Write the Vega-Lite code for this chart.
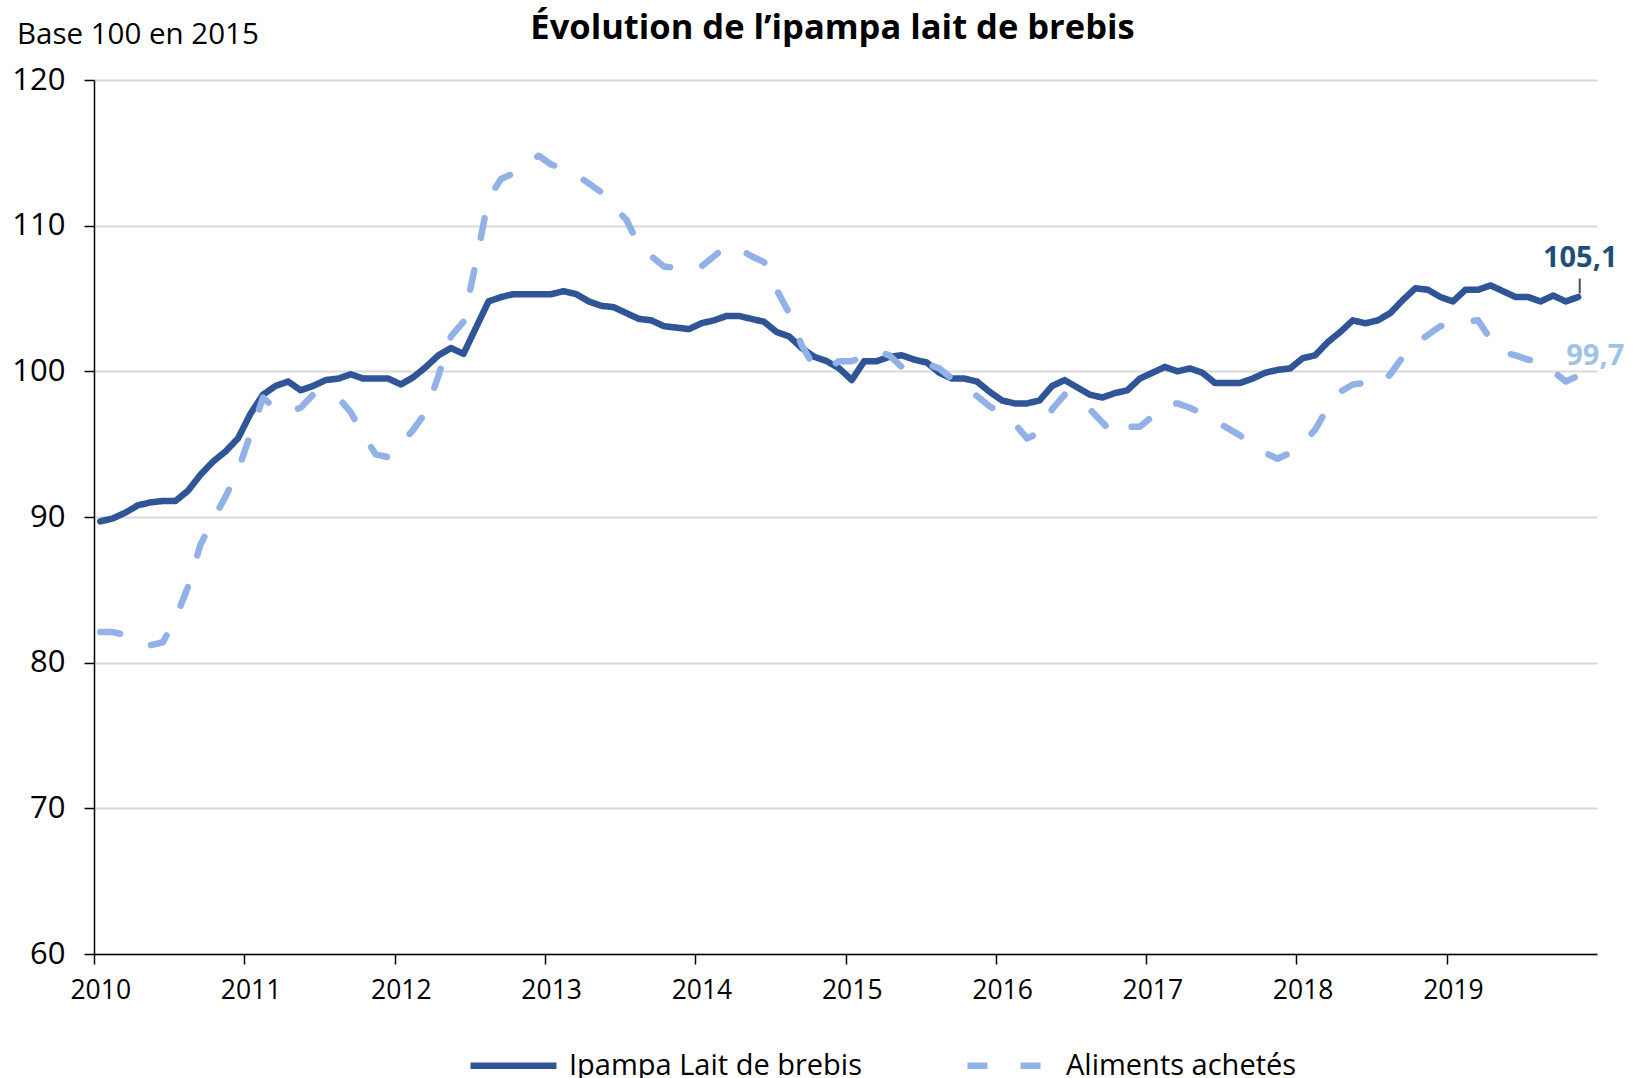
{
  "$schema": "https://vega.github.io/schema/vega-lite/v6.json",
  "width": 1503,
  "height": 874,
  "autosize": {"type": "none"},
  "padding": {"left": 94, "top": 80, "right": 36, "bottom": 124},
  "background": "white",
  "config": {"font": "Open Sans", "view": {"stroke": null}},
  "title": {"text": "Évolution de l’ipampa lait de brebis", "font": "Open Sans", "fontSize": 34.5, "fontWeight": "bold", "color": "black", "anchor": "middle", "frame": "group", "offset": 0, "dx": -13, "dy": 54, "baseline": "alphabetic"},
  "datasets": {
    "series": [
      {"m": "2010-01", "ipampa": 89.7, "aliments": 82.1},
      {"m": "2010-02", "ipampa": 89.9, "aliments": 82.1},
      {"m": "2010-03", "ipampa": 90.3, "aliments": 81.9},
      {"m": "2010-04", "ipampa": 90.8, "aliments": 81.5},
      {"m": "2010-05", "ipampa": 91.0, "aliments": 81.2},
      {"m": "2010-06", "ipampa": 91.1, "aliments": 81.4},
      {"m": "2010-07", "ipampa": 91.1, "aliments": 83.0},
      {"m": "2010-08", "ipampa": 91.8, "aliments": 85.2},
      {"m": "2010-09", "ipampa": 92.9, "aliments": 88.1},
      {"m": "2010-10", "ipampa": 93.8, "aliments": 89.8},
      {"m": "2010-11", "ipampa": 94.5, "aliments": 91.4},
      {"m": "2010-12", "ipampa": 95.4, "aliments": 93.2},
      {"m": "2011-01", "ipampa": 97.1, "aliments": 95.7},
      {"m": "2011-02", "ipampa": 98.4, "aliments": 98.2},
      {"m": "2011-03", "ipampa": 99.0, "aliments": 97.4},
      {"m": "2011-04", "ipampa": 99.3, "aliments": 97.2},
      {"m": "2011-05", "ipampa": 98.7, "aliments": 97.5},
      {"m": "2011-06", "ipampa": 99.0, "aliments": 98.4},
      {"m": "2011-07", "ipampa": 99.4, "aliments": 98.3},
      {"m": "2011-08", "ipampa": 99.5, "aliments": 98.2},
      {"m": "2011-09", "ipampa": 99.8, "aliments": 97.2},
      {"m": "2011-10", "ipampa": 99.5, "aliments": 95.6},
      {"m": "2011-11", "ipampa": 99.5, "aliments": 94.3},
      {"m": "2011-12", "ipampa": 99.5, "aliments": 94.1},
      {"m": "2012-01", "ipampa": 99.1, "aliments": 95.0},
      {"m": "2012-02", "ipampa": 99.6, "aliments": 96.0},
      {"m": "2012-03", "ipampa": 100.3, "aliments": 97.2},
      {"m": "2012-04", "ipampa": 101.1, "aliments": 99.7},
      {"m": "2012-05", "ipampa": 101.6, "aliments": 102.4},
      {"m": "2012-06", "ipampa": 101.2, "aliments": 103.4},
      {"m": "2012-07", "ipampa": 103.0, "aliments": 107.5},
      {"m": "2012-08", "ipampa": 104.8, "aliments": 111.9},
      {"m": "2012-09", "ipampa": 105.1, "aliments": 113.2},
      {"m": "2012-10", "ipampa": 105.3, "aliments": 113.6},
      {"m": "2012-11", "ipampa": 105.3, "aliments": 114.2},
      {"m": "2012-12", "ipampa": 105.3, "aliments": 114.8},
      {"m": "2013-01", "ipampa": 105.3, "aliments": 114.2},
      {"m": "2013-02", "ipampa": 105.5, "aliments": 113.9},
      {"m": "2013-03", "ipampa": 105.3, "aliments": 113.5},
      {"m": "2013-04", "ipampa": 104.8, "aliments": 112.9},
      {"m": "2013-05", "ipampa": 104.5, "aliments": 112.3},
      {"m": "2013-06", "ipampa": 104.4, "aliments": 111.3},
      {"m": "2013-07", "ipampa": 104.0, "aliments": 110.4},
      {"m": "2013-08", "ipampa": 103.6, "aliments": 108.7},
      {"m": "2013-09", "ipampa": 103.5, "aliments": 107.9},
      {"m": "2013-10", "ipampa": 103.1, "aliments": 107.2},
      {"m": "2013-11", "ipampa": 103.0, "aliments": 107.1},
      {"m": "2013-12", "ipampa": 102.9, "aliments": 107.0},
      {"m": "2014-01", "ipampa": 103.3, "aliments": 107.2},
      {"m": "2014-02", "ipampa": 103.5, "aliments": 107.9},
      {"m": "2014-03", "ipampa": 103.8, "aliments": 108.6},
      {"m": "2014-04", "ipampa": 103.8, "aliments": 108.4},
      {"m": "2014-05", "ipampa": 103.6, "aliments": 107.9},
      {"m": "2014-06", "ipampa": 103.4, "aliments": 107.5},
      {"m": "2014-07", "ipampa": 102.7, "aliments": 105.6},
      {"m": "2014-08", "ipampa": 102.4, "aliments": 104.0},
      {"m": "2014-09", "ipampa": 101.6, "aliments": 101.8},
      {"m": "2014-10", "ipampa": 101.0, "aliments": 100.3},
      {"m": "2014-11", "ipampa": 100.7, "aliments": 100.2},
      {"m": "2014-12", "ipampa": 100.2, "aliments": 100.7},
      {"m": "2015-01", "ipampa": 99.4, "aliments": 100.7},
      {"m": "2015-02", "ipampa": 100.7, "aliments": 101.0},
      {"m": "2015-03", "ipampa": 100.7, "aliments": 101.4},
      {"m": "2015-04", "ipampa": 101.0, "aliments": 101.1},
      {"m": "2015-05", "ipampa": 101.1, "aliments": 100.3},
      {"m": "2015-06", "ipampa": 100.8, "aliments": 100.6},
      {"m": "2015-07", "ipampa": 100.6, "aliments": 100.5},
      {"m": "2015-08", "ipampa": 99.9, "aliments": 100.2},
      {"m": "2015-09", "ipampa": 99.5, "aliments": 99.5},
      {"m": "2015-10", "ipampa": 99.5, "aliments": 98.9},
      {"m": "2015-11", "ipampa": 99.3, "aliments": 98.3},
      {"m": "2015-12", "ipampa": 98.6, "aliments": 97.6},
      {"m": "2016-01", "ipampa": 98.0, "aliments": 97.1},
      {"m": "2016-02", "ipampa": 97.8, "aliments": 96.4},
      {"m": "2016-03", "ipampa": 97.8, "aliments": 95.4},
      {"m": "2016-04", "ipampa": 98.0, "aliments": 95.8},
      {"m": "2016-05", "ipampa": 99.0, "aliments": 97.4},
      {"m": "2016-06", "ipampa": 99.4, "aliments": 98.4},
      {"m": "2016-07", "ipampa": 98.9, "aliments": 98.2},
      {"m": "2016-08", "ipampa": 98.4, "aliments": 97.4},
      {"m": "2016-09", "ipampa": 98.2, "aliments": 96.5},
      {"m": "2016-10", "ipampa": 98.5, "aliments": 95.6},
      {"m": "2016-11", "ipampa": 98.7, "aliments": 96.2},
      {"m": "2016-12", "ipampa": 99.5, "aliments": 96.2},
      {"m": "2017-01", "ipampa": 99.9, "aliments": 96.9},
      {"m": "2017-02", "ipampa": 100.3, "aliments": 97.7},
      {"m": "2017-03", "ipampa": 100.0, "aliments": 97.8},
      {"m": "2017-04", "ipampa": 100.2, "aliments": 97.5},
      {"m": "2017-05", "ipampa": 99.9, "aliments": 97.1},
      {"m": "2017-06", "ipampa": 99.2, "aliments": 96.6},
      {"m": "2017-07", "ipampa": 99.2, "aliments": 96.1},
      {"m": "2017-08", "ipampa": 99.2, "aliments": 95.6},
      {"m": "2017-09", "ipampa": 99.5, "aliments": 94.9},
      {"m": "2017-10", "ipampa": 99.9, "aliments": 94.4},
      {"m": "2017-11", "ipampa": 100.1, "aliments": 94.0},
      {"m": "2017-12", "ipampa": 100.2, "aliments": 94.4},
      {"m": "2018-01", "ipampa": 100.9, "aliments": 95.0},
      {"m": "2018-02", "ipampa": 101.1, "aliments": 96.0},
      {"m": "2018-03", "ipampa": 102.0, "aliments": 97.5},
      {"m": "2018-04", "ipampa": 102.7, "aliments": 98.6},
      {"m": "2018-05", "ipampa": 103.5, "aliments": 99.1},
      {"m": "2018-06", "ipampa": 103.3, "aliments": 99.2},
      {"m": "2018-07", "ipampa": 103.5, "aliments": 99.0},
      {"m": "2018-08", "ipampa": 104.0, "aliments": 99.8},
      {"m": "2018-09", "ipampa": 104.9, "aliments": 101.0},
      {"m": "2018-10", "ipampa": 105.7, "aliments": 101.9},
      {"m": "2018-11", "ipampa": 105.6, "aliments": 102.5},
      {"m": "2018-12", "ipampa": 105.1, "aliments": 103.1},
      {"m": "2019-01", "ipampa": 104.8, "aliments": 103.2},
      {"m": "2019-02", "ipampa": 105.6, "aliments": 103.4},
      {"m": "2019-03", "ipampa": 105.6, "aliments": 103.5},
      {"m": "2019-04", "ipampa": 105.9, "aliments": 102.2},
      {"m": "2019-05", "ipampa": 105.5, "aliments": 101.3},
      {"m": "2019-06", "ipampa": 105.1, "aliments": 101.1},
      {"m": "2019-07", "ipampa": 105.1, "aliments": 100.8},
      {"m": "2019-08", "ipampa": 104.8, "aliments": 100.7},
      {"m": "2019-09", "ipampa": 105.2, "aliments": 100.0},
      {"m": "2019-10", "ipampa": 104.8, "aliments": 99.3},
      {"m": "2019-11", "ipampa": 105.1, "aliments": 99.7}
    ],
    "labels": [
      {"m": "2019-11", "serie": "ipampa", "v": 105.1, "label": "105,1"},
      {"m": "2019-11", "serie": "aliments", "v": 99.7, "label": "99,7"}
    ]
  },
  "layer": [
    {
      "data": {"name": "series"},
      "transform": [{"fold": ["ipampa", "aliments"], "as": ["serie", "v"]}],
      "mark": {"type": "line", "strokeWidth": 6.5, "strokeCap": "round", "strokeJoin": "round"},
      "encoding": {
        "x": {
          "field": "m", "type": "ordinal",
          "scale": {"type": "point", "padding": 0.5, "domain": [
            "2010-01","2010-02","2010-03","2010-04","2010-05","2010-06","2010-07","2010-08","2010-09","2010-10","2010-11","2010-12",
            "2011-01","2011-02","2011-03","2011-04","2011-05","2011-06","2011-07","2011-08","2011-09","2011-10","2011-11","2011-12",
            "2012-01","2012-02","2012-03","2012-04","2012-05","2012-06","2012-07","2012-08","2012-09","2012-10","2012-11","2012-12",
            "2013-01","2013-02","2013-03","2013-04","2013-05","2013-06","2013-07","2013-08","2013-09","2013-10","2013-11","2013-12",
            "2014-01","2014-02","2014-03","2014-04","2014-05","2014-06","2014-07","2014-08","2014-09","2014-10","2014-11","2014-12",
            "2015-01","2015-02","2015-03","2015-04","2015-05","2015-06","2015-07","2015-08","2015-09","2015-10","2015-11","2015-12",
            "2016-01","2016-02","2016-03","2016-04","2016-05","2016-06","2016-07","2016-08","2016-09","2016-10","2016-11","2016-12",
            "2017-01","2017-02","2017-03","2017-04","2017-05","2017-06","2017-07","2017-08","2017-09","2017-10","2017-11","2017-12",
            "2018-01","2018-02","2018-03","2018-04","2018-05","2018-06","2018-07","2018-08","2018-09","2018-10","2018-11","2018-12",
            "2019-01","2019-02","2019-03","2019-04","2019-05","2019-06","2019-07","2019-08","2019-09","2019-10","2019-11","2019-12"]},
          "axis": {
            "title": null, "grid": false,
            "values": ["2010-01","2011-01","2012-01","2013-01","2014-01","2015-01","2016-01","2017-01","2018-01","2019-01"],
            "labelExpr": "substring(datum.value, 0, 4)",
            "labelAngle": 0, "labelFont": "Open Sans", "labelFontSize": 26.5, "labelColor": "black",
            "labelPadding": 13, "tickOffset": -6.26, "labelOffset": 6.26,
            "domainColor": "black", "domainWidth": 1.5, "tickColor": "black", "tickWidth": 1.5, "tickSize": 10
          }
        },
        "y": {
          "field": "v", "type": "quantitative",
          "scale": {"domain": [60, 120], "nice": false, "zero": false},
          "axis": {
            "title": "Base 100 en 2015", "titleAngle": 0, "titleAlign": "left", "titleBaseline": "alphabetic",
            "titleX": -77.5, "titleY": -36.5, "titleFont": "Open Sans", "titleFontSize": 29.5, "titleFontWeight": "normal", "titleColor": "black",
            "values": [60, 70, 80, 90, 100, 110, 120],
            "grid": true, "gridColor": "#D9D9D9", "gridWidth": 2,
            "domainColor": "black", "domainWidth": 1.5, "tickColor": "black", "tickWidth": 1.5, "tickSize": 10,
            "labelFont": "Open Sans", "labelFontSize": 31, "labelColor": "black", "labelPadding": 19
          }
        },
        "color": {
          "field": "serie", "type": "nominal",
          "scale": {"domain": ["ipampa", "aliments"], "range": ["#2F5597", "#92B1E6"]},
          "legend": {
            "title": null, "orient": "none", "legendX": 373, "legendY": 939, "direction": "horizontal", "padding": 0,
            "symbolType": "stroke", "symbolSize": 7400, "symbolStrokeWidth": 6.5,
            "labelFont": "Open Sans", "labelFontSize": 29, "labelColor": "black", "labelOffset": 9, "labelLimit": 0,
            "columnPadding": 92,
            "labelExpr": "datum.value == 'ipampa' ? 'Ipampa Lait de brebis' : 'Aliments achetés'"
          }
        },
        "strokeDash": {
          "field": "serie", "type": "nominal",
          "scale": {"domain": ["ipampa", "aliments"], "range": [[1, 0], [20, 33]]},
          "legend": {
            "title": null, "orient": "none", "legendX": 373, "legendY": 939, "direction": "horizontal", "padding": 0,
            "symbolType": "stroke", "symbolSize": 7400, "symbolStrokeWidth": 6.5,
            "labelFont": "Open Sans", "labelFontSize": 29, "labelColor": "black", "labelOffset": 9, "labelLimit": 0,
            "columnPadding": 92,
            "labelExpr": "datum.value == 'ipampa' ? 'Ipampa Lait de brebis' : 'Aliments achetés'"
          }
        }
      }
    },
    {
      "data": {"name": "labels"},
      "transform": [{"filter": "datum.serie == 'ipampa'"}],
      "mark": {"type": "tick", "orient": "vertical", "size": 15, "thickness": 2, "color": "black", "yOffset": -11, "xOffset": 1.5},
      "encoding": {
        "x": {"field": "m", "type": "ordinal"},
        "y": {"field": "v", "type": "quantitative"}
      }
    },
    {
      "data": {"name": "labels"},
      "transform": [{"filter": "datum.serie == 'ipampa'"}],
      "mark": {"type": "text", "font": "Open Sans", "fontWeight": "bold", "fontSize": 29, "color": "#1F4E79", "align": "center", "baseline": "alphabetic", "dx": 2, "dy": -30},
      "encoding": {
        "x": {"field": "m", "type": "ordinal"},
        "y": {"field": "v", "type": "quantitative"},
        "text": {"field": "label"}
      }
    },
    {
      "data": {"name": "labels"},
      "transform": [{"filter": "datum.serie == 'aliments'"}],
      "mark": {"type": "text", "font": "Open Sans", "fontWeight": "bold", "fontSize": 29, "color": "#9DC3E6", "align": "left", "baseline": "alphabetic", "dx": -12, "dy": -11},
      "encoding": {
        "x": {"field": "m", "type": "ordinal"},
        "y": {"field": "v", "type": "quantitative"},
        "text": {"field": "label"}
      }
    }
  ]
}
